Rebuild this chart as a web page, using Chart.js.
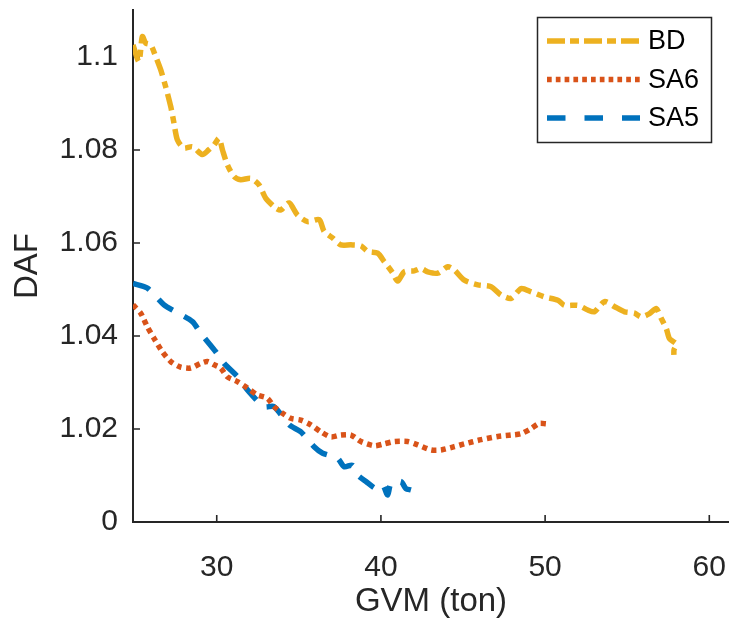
<!DOCTYPE html>
<html>
<head>
<meta charset="utf-8">
<script src="https://cdn.jsdelivr.net/npm/chart.js@4.4.1/dist/chart.umd.min.js"></script>
<style>
  body { margin: 0; background: #fff; }
  #wrap { width: 729px; height: 622px; }
</style>
</head>
<body>
<div id="wrap"><canvas id="chart" width="729" height="622"></canvas></div>
<script>
// values
const bdX = [24.9, 25.26, 25.47, 25.67, 25.98, 26.28, 26.59, 26.89, 27.2, 27.4, 27.6, 28.0, 28.52, 29.13, 29.5, 29.84, 30.14, 30.35, 30.65, 31.05, 31.46, 32.07, 32.58, 32.99, 33.6, 33.9, 34.41, 34.92, 35.53, 36.24, 36.54, 37.05, 37.56, 38.17, 38.78, 39.19, 39.8, 40.2, 40.71, 41.02, 41.42, 42.03, 42.44, 42.85, 43.46, 44.07, 44.47, 45.08, 45.9, 46.71, 47.32, 47.93, 48.54, 49.15, 49.96, 50.78, 51.18, 52.0, 52.6, 53.0, 53.62, 54.23, 54.84, 55.45, 55.85, 56.36, 56.77, 57.07, 57.38, 57.58, 57.99, 57.85, 57.85];
const bdY = [1.1026, 1.0990, 1.1044, 1.1030, 1.1026, 1.1001, 1.0972, 1.0936, 1.0893, 1.0857, 1.0822, 1.0804, 1.0807, 1.0790, 1.0800, 1.0811, 1.0825, 1.0800, 1.0768, 1.0743, 1.0736, 1.0739, 1.0725, 1.0696, 1.0675, 1.0671, 1.0686, 1.0660, 1.0646, 1.0650, 1.0625, 1.0611, 1.0596, 1.0596, 1.0594, 1.0582, 1.0578, 1.0560, 1.0536, 1.0518, 1.0538, 1.0540, 1.0545, 1.0538, 1.0535, 1.0549, 1.0542, 1.0520, 1.0510, 1.0506, 1.0488, 1.0481, 1.0502, 1.0495, 1.0484, 1.0477, 1.0466, 1.0466, 1.0456, 1.0452, 1.0474, 1.0463, 1.0452, 1.0449, 1.0441, 1.0448, 1.0459, 1.0438, 1.0416, 1.0394, 1.0383, 1.0370, 1.0352];

const sa6X = [24.9, 25.37, 25.77, 26.18, 26.69, 27.2, 27.8, 28.41, 29.02, 29.43, 29.84, 30.24, 30.65, 31.26, 31.87, 32.48, 33.09, 33.49, 34.0, 34.51, 35.12, 35.73, 36.34, 36.95, 37.56, 38.17, 38.78, 39.59, 40.2, 40.81, 41.63, 42.24, 43.05, 43.66, 44.47, 45.08, 46.1, 47.12, 47.93, 48.54, 49.15, 49.65, 50.06];
const sa6Y = [1.0467, 1.0449, 1.0420, 1.0395, 1.0366, 1.0345, 1.0333, 1.0331, 1.0341, 1.0345, 1.0338, 1.0331, 1.0312, 1.0302, 1.0288, 1.0273, 1.0266, 1.0248, 1.0234, 1.0223, 1.0219, 1.0209, 1.0194, 1.0183, 1.0187, 1.0187, 1.0173, 1.0164, 1.0168, 1.0173, 1.0173, 1.0166, 1.0155, 1.0155, 1.0162, 1.0168, 1.0177, 1.0184, 1.0187, 1.0190, 1.0201, 1.0212, 1.0211];

const sa5X = [24.9, 25.77, 26.79, 27.5, 28.52, 29.02, 29.94, 30.45, 31.36, 31.87, 32.88, 33.49, 34.41, 35.12, 35.93, 36.45, 37.36, 37.76, 38.27, 38.58, 39.09, 39.7, 40.1, 40.41, 40.61, 41.22, 41.52, 41.83];
const sa5Y = [1.0513, 1.0503, 1.0467, 1.0452, 1.0431, 1.0406, 1.0366, 1.0341, 1.0309, 1.0284, 1.0248, 1.0248, 1.0209, 1.0194, 1.0162, 1.0148, 1.0137, 1.0119, 1.0122, 1.0101, 1.0087, 1.0072, 1.0080, 1.0058, 1.0083, 1.0087, 1.0072, 1.0069];

const seriesNames = ['BD', 'SA6', 'SA5'];
const xTickValues = [30, 40, 50, 60];
const yTickValues = [1.00, 1.02, 1.04, 1.06, 1.08, 1.10];
const yTickLabels = ['0', '1.02', '1.04', '1.06', '1.08', '1.1'];

const axisColor = '#262626';
Chart.defaults.font.family = "'Liberation Sans', Arial, sans-serif";

const toPoints = (xs, ys) => xs.map((x, i) => ({ x: x, y: ys[i] }));

// MATLAB style ticks pointing into the plot
const innerTicks = {
  id: 'innerTicks',
  beforeDatasetsDraw(chart) {
    const { ctx, chartArea, scales } = chart;
    ctx.save();
    ctx.strokeStyle = axisColor;
    ctx.lineWidth = 1.6;
    ctx.beginPath();
    xTickValues.forEach(v => {
      const px = scales.x.getPixelForValue(v);
      ctx.moveTo(px, chartArea.bottom);
      ctx.lineTo(px, chartArea.bottom - 7);
    });
    yTickValues.forEach(v => {
      const py = scales.y.getPixelForValue(v);
      ctx.moveTo(chartArea.left, py);
      ctx.lineTo(chartArea.left + 7, py);
    });
    ctx.stroke();
    ctx.restore();
  }
};

// boxed legend in the top right corner
const boxLegend = {
  id: 'boxLegend',
  afterDraw(chart) {
    const { ctx } = chart;
    const left = 537, top = 17, w = 174, h = 125;
    ctx.save();
    ctx.fillStyle = '#fff';
    ctx.fillRect(left, top, w, h);
    ctx.strokeStyle = axisColor;
    ctx.lineWidth = 1.5;
    ctx.strokeRect(left + 0.5, top + 0.5, w, h);
    chart.data.datasets.forEach((ds, i) => {
      const y = top + 24 + i * 38.5;
      ctx.strokeStyle = ds.borderColor;
      ctx.lineWidth = ds.borderWidth;
      ctx.setLineDash(ds.legendDash);
      ctx.beginPath();
      ctx.moveTo(left + 10, y);
      ctx.lineTo(left + 103, y);
      ctx.stroke();
      ctx.setLineDash([]);
      ctx.fillStyle = '#000';
      ctx.font = "27px 'Liberation Sans', Arial, sans-serif";
      ctx.textBaseline = 'middle';
      ctx.fillText(ds.label, left + 111, y + 1);
    });
    ctx.restore();
  }
};

new Chart(document.getElementById('chart'), {
  type: 'line',
  data: {
    datasets: [
      {
        label: seriesNames[0],
        data: toPoints(bdX, bdY),
        borderColor: '#EDB120',
        borderWidth: 5.5,
        borderDash: [17, 6, 7, 6],
        legendDash: [18, 5, 9, 5],
        tension: 0.25
      },
      {
        label: seriesNames[1],
        data: toPoints(sa6X, sa6Y),
        borderColor: '#D95319',
        borderWidth: 5.5,
        borderDash: [5, 4.5],
        legendDash: [4.7, 4.1],
        tension: 0.25
      },
      {
        label: seriesNames[2],
        data: toPoints(sa5X, sa5Y),
        borderColor: '#0072BD',
        borderWidth: 5.5,
        borderDash: [18, 13],
        legendDash: [18.5, 19],
        tension: 0.25
      }
    ]
  },
  options: {
    responsive: false,
    animation: false,
    layout: { padding: { top: 10, right: 0, left: 0, bottom: 0 } },
    elements: { point: { radius: 0 }, line: { borderCapStyle: 'butt', fill: false } },
    plugins: { legend: { display: false }, tooltip: { enabled: false } },
    scales: {
      x: {
        type: 'linear',
        position: 'bottom',
        min: 24.9,
        max: 61.2,
        afterFit(s) { s.height = 100; s.paddingLeft = 0; s.paddingRight = 0; },
        afterBuildTicks(s) { s.ticks = xTickValues.map(v => ({ value: v })); },
        ticks: { color: axisColor, font: { size: 30 }, padding: 28, maxRotation: 0, autoSkip: false },
        grid: { drawOnChartArea: false, drawTicks: false },
        border: { color: axisColor, width: 2 },
        title: { display: true, text: 'GVM (ton)', color: axisColor, font: { size: 33 }, padding: { top: 0, bottom: 0 } }
      },
      y: {
        type: 'linear',
        min: 1.0,
        max: 1.1101,
        afterFit(s) { s.width = 133; s.paddingTop = 0; s.paddingBottom = 0; },
        afterBuildTicks(s) { s.ticks = yTickValues.map(v => ({ value: v })); },
        ticks: {
          color: axisColor,
          font: { size: 30 },
          padding: 15,
          autoSkip: false,
          callback: (v, i) => yTickLabels[i]
        },
        grid: { drawOnChartArea: false, drawTicks: false },
        border: { color: axisColor, width: 2 },
        title: { display: true, text: 'DAF', color: axisColor, font: { size: 33 }, padding: { top: 8, bottom: 0 } }
      }
    }
  },
  plugins: [innerTicks, boxLegend]
});
</script>
</body>
</html>
